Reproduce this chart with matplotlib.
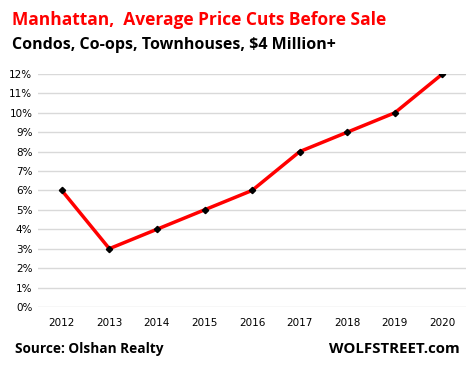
import matplotlib.pyplot as plt
from matplotlib.ticker import FuncFormatter

# Data
years = ['2012', '2013', '2014', '2015', '2016', '2017', '2018', '2019', '2020']
price_cuts = [6, 3, 4, 5, 6, 8, 9, 10, 12]

fig = plt.figure(figsize=(4.69, 3.68), dpi=100)
ax = fig.add_axes([0.081, 0.166, 0.913, 0.633])

x = range(len(years))
ax.plot(x, price_cuts, color='#ff0000', linewidth=2.5, zorder=3)
ax.plot(x, price_cuts, linestyle='none', marker='D', markersize=3.2, color='black', zorder=4)

ax.set_xlim(-0.5, len(years) - 0.5)
ax.set_ylim(0, 12)
ax.set_yticks(range(0, 13))
ax.yaxis.set_major_formatter(FuncFormatter(lambda v, p: f"{int(v)}%"))
ax.set_xticks(list(x))
ax.set_xticklabels(years)
ax.grid(axis='y', color='#d9d9d9', linewidth=1)
ax.set_axisbelow(True)
for s in ax.spines.values():
    s.set_visible(False)
ax.tick_params(length=0, labelsize=7.5, colors='black', pad=4)
ax.tick_params(axis='x', pad=8)

# Titles
fig.text(0.026, 0.945, "Manhattan,  Average Price Cuts Before Sale", color='#ff0000',
         fontsize=12.5, fontweight='bold', family='Open Sans', va='center')
fig.text(0.026, 0.877, "Condos, Co-ops, Townhouses, $4 Million+", color='black',
         fontsize=11.5, fontweight='bold', family='Open Sans', va='center')
fig.text(0.032, 0.052, "Source: Olshan Realty", color='black',
         fontsize=9.8, fontweight='bold', family='Open Sans', va='center')
fig.text(0.981, 0.052, "WOLFSTREET.com", color='black',
         fontsize=10.8, fontweight='bold', family='Open Sans', va='center', ha='right')

fig.savefig('out.png', dpi=100)
